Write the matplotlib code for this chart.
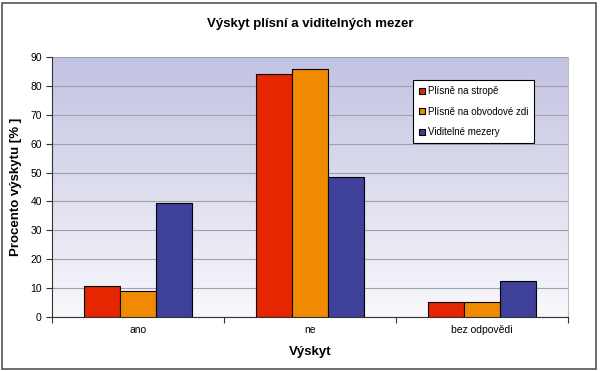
import matplotlib.pyplot as plt
import numpy as np
from matplotlib.patches import Rectangle
from matplotlib.colors import LinearSegmentedColormap

categories = ["ano", "ne", "bez odpovědi"]
series_names = ["Plísně na stropě", "Plísně na obvodové zdi", "Viditelné mezery"]
strop = [10.7, 84.0, 5.2]
zdi = [9.0, 86.0, 5.2]
mezery = [39.4, 48.3, 12.4]
colors = ["#e52600", "#f08a00", "#3f4099"]

plt.rcParams["font.family"] = ["Liberation Sans", "DejaVu Sans"]

fig = plt.figure(figsize=(6, 3.71), dpi=100)
fig.patches.append(Rectangle((0.004, 0.006), 0.99, 0.985, transform=fig.transFigure,
                             fill=False, edgecolor="#555555", lw=1.2))
ax = fig.add_axes([0.087, 0.146, 0.86, 0.700])

# gradient background
grad = np.linspace(0, 1, 256).reshape(-1, 1)
cmap = LinearSegmentedColormap.from_list("bg", ["#f8f8fc", "#c2c2e2"])
ax.imshow(grad, aspect="auto", cmap=cmap, origin="lower",
          extent=[0, 1, 0, 1], transform=ax.transAxes, zorder=0)

x = np.arange(len(categories))
w = 0.21
for i, (vals, name) in enumerate(zip([strop, zdi, mezery], series_names)):
    ax.bar(x + (i - 1) * w, vals, w, color=colors[i], edgecolor="black",
           linewidth=0.8, label=name, zorder=3)

ax.set_xlim(-0.5, 2.5)
ax.set_ylim(0, 90)
ax.set_yticks(range(0, 91, 10))
ax.grid(axis="y", color="#a0a0a8", lw=0.8, zorder=1)
ax.set_xticks([-0.5, 0.5, 1.5, 2.5])
ax.set_xticklabels([])
ax.set_xticks(x, minor=True)
ax.set_xticklabels(categories, minor=True)
ax.tick_params(axis="x", which="minor", length=0, pad=6, labelsize=7.5)
ax.tick_params(axis="x", which="major", length=4, color="#333333")
ax.tick_params(axis="y", length=4, labelsize=7.5, color="#333333")

ax.spines["top"].set_visible(False)
ax.spines["right"].set_color("#bbbbbb")
ax.spines["left"].set_color("#333333")
ax.spines["bottom"].set_color("#333333")

ax.set_title("Výskyt plísní a viditelných mezer", fontsize=9.5, fontweight="bold", pad=22)
ax.set_xlabel("Výskyt", fontsize=9.5, fontweight="bold", labelpad=8)
ax.set_ylabel("Procento výskytu [% ]", fontsize=9.5, fontweight="bold", labelpad=6)

leg = ax.legend(loc="upper left", bbox_to_anchor=(0.70, 0.911), fontsize=7,
                frameon=True, fancybox=False, edgecolor="black", framealpha=1,
                handlelength=0.6, handleheight=0.6, handletextpad=0.3,
                labelspacing=1.1, borderpad=0.6, borderaxespad=0)
leg.get_frame().set_linewidth(0.8)

fig.savefig("out.png", dpi=100)
